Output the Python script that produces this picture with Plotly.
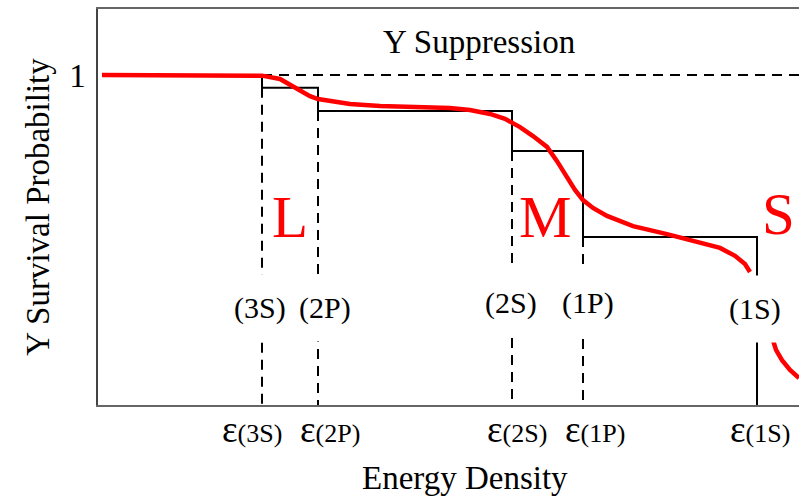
import plotly.graph_objects as go

# ---- data ----
state_names = ["3S", "2P", "2S", "1P", "1S"]
thresholds = [1.64, 2.20, 4.14, 4.85, 6.59]          # energy density of melting
levels = [1.0, 0.961, 0.891, 0.770, 0.509, 0.0]       # survival after each threshold

curve_x = [0.04, 0.52, 1.02, 1.42, 1.64, 1.82, 1.95, 2.02, 2.12, 2.20, 2.37, 2.52, 2.82, 3.22,
           3.52, 3.72, 3.92, 4.07, 4.22, 4.35, 4.49, 4.59, 4.69, 4.77, 4.85, 4.95, 5.09, 5.22,
           5.35, 5.69, 6.02, 6.22, 6.37, 6.47, 6.52, None, 6.74, 6.78, 6.84, 6.92, 7.01]
curve_y = [1.0, 1.0, 1.0, 1.0, 0.998, 0.988, 0.967, 0.952, 0.936, 0.927, 0.918, 0.912, 0.906, 0.903,
           0.900, 0.894, 0.882, 0.867, 0.842, 0.815, 0.782, 0.739, 0.691, 0.652, 0.621, 0.597, 0.573, 0.558,
           0.542, 0.518, 0.494, 0.476, 0.452, 0.427, 0.403, None, 0.206, 0.167, 0.136, 0.106, 0.082]

region_labels = ["L", "M", "S"]
region_x = [1.92, 4.47, 6.80]
region_y = [0.57, 0.57, 0.58]

X_MAX = 7.01
Y_MAX = 1.2
FONT = "Liberation Serif, Times New Roman, serif"

fig = go.Figure()

# step function
sx, sy = [], []
for i, t in enumerate(thresholds):
    sx += [t, t]
    sy += [levels[i], levels[i + 1]]
    if i + 1 < len(thresholds):
        sx.append(thresholds[i + 1])
        sy.append(levels[i + 1])
fig.add_trace(go.Scatter(x=sx, y=sy, mode="lines", line=dict(color="black", width=2),
                         hoverinfo="skip", showlegend=False))

# dashed vertical lines from each step down to the axis
for i, t in enumerate(thresholds[:-1]):
    fig.add_trace(go.Scatter(x=[t, t], y=[levels[i + 1], 0], mode="lines",
                             line=dict(color="black", width=2, dash="10px,7px"),
                             hoverinfo="skip", showlegend=False))

# dashed line at survival 1
fig.add_trace(go.Scatter(x=[thresholds[0], X_MAX], y=[1, 1], mode="lines",
                         line=dict(color="black", width=2, dash="10px,7px"),
                         hoverinfo="skip", showlegend=False))

# red survival curve
fig.add_trace(go.Scatter(x=curve_x, y=curve_y, mode="lines", line=dict(color="red", width=4.5),
                         hoverinfo="skip", showlegend=False, connectgaps=False))

# state labels with white box that interrupts the lines
label_dx = [-0.02, 0.07, -0.01, 0.05, -0.02]
label_y = [0.293, 0.293, 0.31, 0.31, 0.29]
for n, t, dx, ly in zip(state_names, thresholds, label_dx, label_y):
    fig.add_annotation(x=t + dx, y=ly, text=f"({n})", showarrow=False,
                       font=dict(family=FONT, size=30, color="black"),
                       bgcolor="white", height=66, valign="middle", borderpad=0)

# tick labels under the axis
tick_dx = [-0.10, 0.12, 0.05, 0.12, 0.03]
for n, t, dx in zip(state_names, thresholds, tick_dx):
    fig.add_annotation(x=t + dx, y=0, yref="y", yanchor="middle", yshift=-24,
                       text=f'<span style="font-size:37px">ε</span>({n})', showarrow=False,
                       font=dict(family=FONT, size=26, color="black"))

for lab, rx, ry in zip(region_labels, region_x, region_y):
    fig.add_annotation(x=rx, y=ry, text=lab, showarrow=False,
                       font=dict(family=FONT, size=59, color="red"))

fig.add_annotation(x=3.81, y=1.10, text="Y Suppression", showarrow=False,
                   font=dict(family=FONT, size=33, color="black"))

# x axis title
fig.add_annotation(x=3.67, y=0, yref="y", yanchor="middle", yshift=-73,
                   text="Energy Density", showarrow=False,
                   font=dict(family=FONT, size=33, color="black"))

fig.update_layout(
    width=799, height=497,
    margin=dict(l=98, r=0, t=9, b=92),
    plot_bgcolor="white", paper_bgcolor="white",
    font=dict(family=FONT, color="black"),
    xaxis=dict(range=[0, X_MAX], showgrid=False, zeroline=False,
               showline=True, linecolor="#666", linewidth=1.5, mirror=True,
               showticklabels=False, ticks=""),
    yaxis=dict(range=[0, Y_MAX], showgrid=False, zeroline=False,
               showline=True, linecolor="#444", linewidth=1.5,
               tickvals=[1], ticktext=["1"], ticks="", ticklabelstandoff=4,
               tickfont=dict(family=FONT, size=33, color="black"),
               title=dict(text="Y Survival Probability", font=dict(family=FONT, size=33, color="black"),
                          standoff=10)),
)

fig.write_html("out.html")
